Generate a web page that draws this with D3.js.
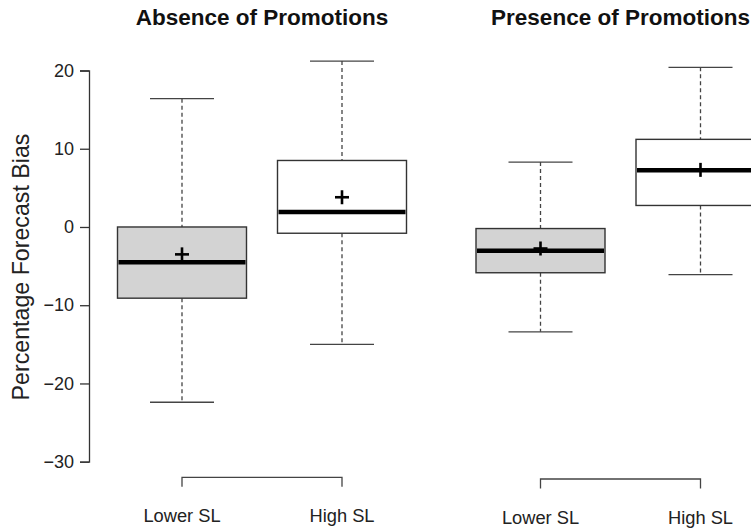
<!DOCTYPE html>
<html>
<head>
<meta charset="utf-8">
<script src="https://cdn.jsdelivr.net/npm/d3@7"></script>
<style>
  body { margin: 0; background: #fff; }
  svg { font-family: "Liberation Sans", Arial, sans-serif; }
</style>
</head>
<body>
<div id="chart"></div>
<script>
// Panels and groups
const panels = ["Absence of Promotions", "Presence of Promotions"];
const levels = ["Lower SL", "High SL"];

// Box statistics per panel, in the order of levels
const absenceStats = [
    { min: -22.4, q1: -9.1, median: -4.5, q3: 0.0, max: 16.4, mean: -3.5 },
    { min: -15.0, q1: -0.8, median: 1.9, q3: 8.5, max: 21.2, mean: 3.8 }
];
const presenceStats = [
    { min: -13.4, q1: -5.85, median: -3.05, q3: -0.2, max: 8.3, mean: -2.75 },
    { min: -6.1, q1: 2.75, median: 7.25, q3: 11.2, max: 20.4, mean: 7.3 }
];
const yTicks = [20, 10, 0, -10, -20, -30];

const statsByPanel = [absenceStats, presenceStats];

const width = 751, height = 530;

const svg = d3.select("#chart")
    .append("svg")
    .attr("width", width)
    .attr("height", height);

// Scales
const xPanel = d3.scalePoint()
    .domain(panels)
    .range([262, 620.5]);

const xInner = d3.scalePoint()
    .domain(levels)
    .range([-80, 80]);

const y = d3.scaleLinear()
    .domain([-30, 20])
    .range([461.7, 70.5]);

const fill = d3.scaleOrdinal()
    .domain(levels)
    .range(["#d3d3d3", "#ffffff"]);

const boxW = 129, capW = 64, crossSize = 14;

// Y axis
const yAxis = svg.append("g")
    .attr("transform", "translate(89,0)")
    .call(d3.axisLeft(y).tickValues(yTicks).tickSize(9).tickPadding(6)
        .tickFormat(d => d3.format("d")(d).replace("-", "\u2212")));

yAxis.select(".domain").attr("stroke", "#333").attr("stroke-width", 1.3);
yAxis.selectAll(".tick line").attr("stroke", "#333").attr("stroke-width", 1.3);
yAxis.selectAll(".tick text")
    .attr("font-size", 18)
    .attr("fill", "#222")
    .attr("font-family", "Liberation Sans, Arial, sans-serif");

// Y axis label
svg.append("text")
    .attr("transform", "translate(29,267) rotate(-90)")
    .attr("text-anchor", "middle")
    .attr("font-size", 23.2)
    .attr("fill", "#222")
    .text("Percentage Forecast Bias");

panels.forEach((panel, pi) => {
    const cx0 = xPanel(panel);
    const stats = statsByPanel[pi];

    // Panel title
    svg.append("text")
        .attr("x", cx0)
        .attr("y", 25)
        .attr("text-anchor", "middle")
        .attr("font-size", 22.5)
        .attr("font-weight", "bold")
        .attr("fill", "#111")
        .text(panel);

    levels.forEach((level, li) => {
        const s = stats[li];
        const xc = cx0 + xInner(level);

        // Whiskers (dashed)
        svg.append("line")
            .attr("x1", xc).attr("x2", xc)
            .attr("y1", y(s.max)).attr("y2", y(s.q3))
            .attr("stroke", "#444").attr("stroke-width", 1.3)
            .attr("stroke-dasharray", "4,3");
        svg.append("line")
            .attr("x1", xc).attr("x2", xc)
            .attr("y1", y(s.q1)).attr("y2", y(s.min))
            .attr("stroke", "#444").attr("stroke-width", 1.3)
            .attr("stroke-dasharray", "4,3");

        // Caps
        [s.max, s.min].forEach(v => {
            svg.append("line")
                .attr("x1", xc - capW / 2).attr("x2", xc + capW / 2)
                .attr("y1", y(v)).attr("y2", y(v))
                .attr("stroke", "#444").attr("stroke-width", 1.3);
        });

        // Box
        svg.append("rect")
            .attr("x", xc - boxW / 2)
            .attr("width", boxW)
            .attr("y", y(s.q3))
            .attr("height", y(s.q1) - y(s.q3))
            .attr("fill", fill(level))
            .attr("stroke", "#333")
            .attr("stroke-width", 1.4);

        // Median
        svg.append("line")
            .attr("x1", xc - boxW / 2 + 1).attr("x2", xc + boxW / 2 - 1)
            .attr("y1", y(s.median)).attr("y2", y(s.median))
            .attr("stroke", "#000").attr("stroke-width", 4.5);

        // Mean cross
        svg.append("line")
            .attr("x1", xc - crossSize / 2).attr("x2", xc + crossSize / 2)
            .attr("y1", y(s.mean)).attr("y2", y(s.mean))
            .attr("stroke", "#000").attr("stroke-width", 2.6);
        svg.append("line")
            .attr("x1", xc).attr("x2", xc)
            .attr("y1", y(s.mean) - crossSize / 2).attr("y2", y(s.mean) + crossSize / 2)
            .attr("stroke", "#000").attr("stroke-width", 2.6);

        // Group label
        svg.append("text")
            .attr("x", xc)
            .attr("y", 522 + pi * 1.5)
            .attr("text-anchor", "middle")
            .attr("font-size", 18.3)
            .attr("fill", "#222")
            .text(level);
    });

    // Bracket under the panel
    const xa = cx0 + xInner(levels[0]);
    const xb = cx0 + xInner(levels[1]);
    const by = 477.3 + pi * 1.7;
    svg.append("path")
        .attr("d", `M${xa},${by + 9.5}V${by}H${xb}V${by + 9.5}`)
        .attr("fill", "none")
        .attr("stroke", "#444")
        .attr("stroke-width", 1.3);
});
</script>
</body>
</html>
